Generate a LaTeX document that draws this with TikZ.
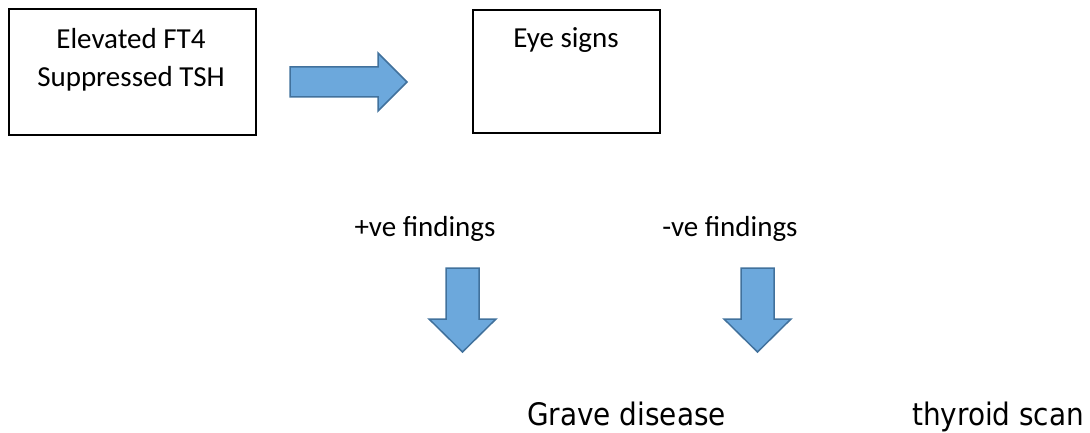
\documentclass[tikz,border=0pt]{standalone}
\usepackage{fontspec}
\setmainfont{Carlito}
\newfontfamily\tahoma{DejaVu Sans Condensed}
\definecolor{arrfill}{RGB}{108,168,220}
\definecolor{arrline}{RGB}{65,113,156}
\begin{document}
\begin{tikzpicture}[x=1pt,y=-1pt,
  box/.style={draw=black,line width=1.3pt,fill=white},
  blk/.style={fill=arrfill,draw=arrline,line width=1.5pt,line join=miter},
  lbl/.style={font=\fontsize{29}{34}\selectfont,inner sep=0pt,anchor=base},
  big/.style={font=\tahoma\fontsize{31}{36}\selectfont,inner sep=0pt,anchor=base west}]
\useasboundingbox (0,0) rectangle (1090,433);
% boxes
\draw[box] (9,9) rectangle (256,135);
\node[lbl] (b1a) at (131,49) {Elevated FT4};
\node[lbl] (b1b) at (131,87) {Suppressed TSH};
\draw[box] (473,10) rectangle (660,133);
\node[lbl] (b2) at (566,48) {Eye signs};
% right block arrow
\draw[blk] (290,67) -- (378,67) -- (378,53) -- (407,82) -- (378,111) -- (378,97) -- (290,97) -- cycle;
% labels
\node[lbl] (pos) at (425,236) {+ve findings};
\node[lbl] (neg) at (730,236) {-ve findings};
% down block arrows
\draw[blk] (446,268) -- (479,268) -- (479,319) -- (496,319) -- (462.5,352) -- (429,319) -- (446,319) -- cycle;
\draw[blk] (741,268) -- (774,268) -- (774,319) -- (791,319) -- (757.5,352) -- (724,319) -- (741,319) -- cycle;
% results
\node[big] (grave) at (527,425) {Grave disease};
\node[big] (scan) at (912,425) {thyroid scan};
\end{tikzpicture}
\end{document}
